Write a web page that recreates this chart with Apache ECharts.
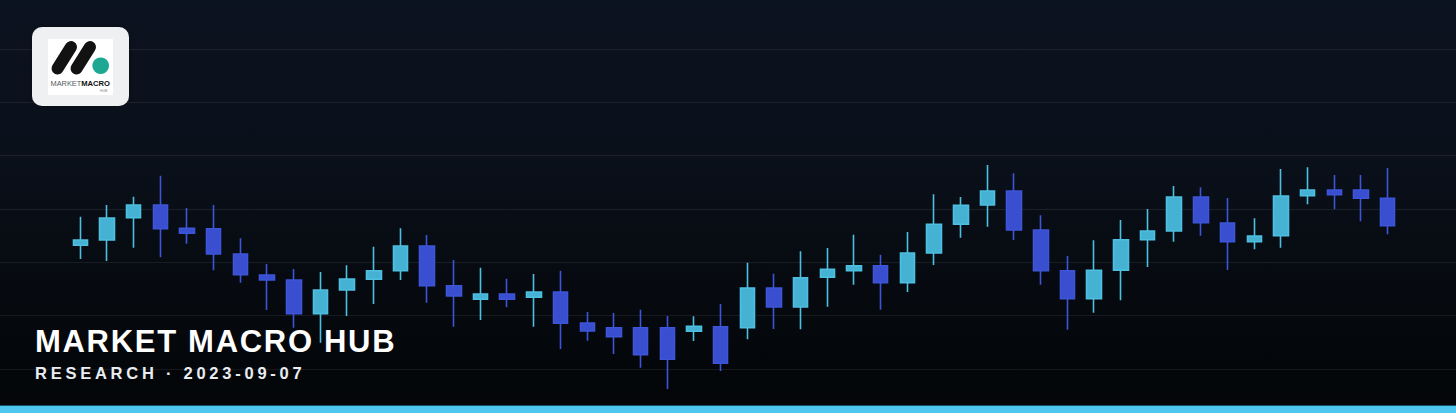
<!DOCTYPE html>
<html>
<head>
<meta charset="utf-8">
<script src="https://cdn.jsdelivr.net/npm/echarts@6/dist/echarts.min.js"></script>
<style>
  html, body { margin: 0; padding: 0; background: #070b12; }
  #chart { width: 1456px; height: 413px; background: linear-gradient(180deg, #0c1320 0%, #0a101a 40%, #05080c 80%, #030508 100%); }
</style>
</head>
<body>
<div id="chart"></div>
<script>
// ---- data ----
const categories = ['1','2','3','4','5','6','7','8','9','10','11','12','13','14','15','16','17','18','19','20','21','22','23','24','25','26','27','28','29','30','31','32','33','34','35','36','37','38','39','40','41','42','43','44','45','46','47','48','49','50'];
const openVals  = [123.19,124.19,128.37,130.75,126.38,126.31,121.56,117.63,116.69,110.37,114.81,116.82,118.43,123.06,115.62,113.07,114.06,113.44,114.44,108.63,107.74,107.74,107.74,107.07,107.93,107.74,115.19,111.63,117.19,118.43,119.37,116.18,121.75,127.13,130.75,133.38,126.06,118.43,113.18,118.51,124.24,125.88,132.25,127.38,123.87,124.99,132.49,133.56,133.56,132.01];
const closeVals = [124.19,128.31,130.75,126.31,125.44,121.56,117.68,116.69,110.37,114.81,116.88,118.43,123.06,115.62,113.69,114.06,113.07,114.44,108.57,107.13,106.06,102.68,101.82,108.01,101.07,115.19,111.63,117.12,118.69,119.37,116.18,121.75,127.13,130.69,133.38,126.06,118.43,113.18,118.51,124.24,125.88,132.25,127.43,123.87,124.94,132.44,133.56,132.68,132.01,126.87];
const lowVals   = [120.63,120.25,122.74,120.94,123.49,118.51,116.18,111.06,107.74,104.93,109.94,112.19,116.69,112.43,107.93,109.19,111.57,107.93,103.75,105.31,102.81,100.24,96.25,105.25,99.63,105.57,107.5,107.44,111.68,115.81,111.12,114.44,119.5,124.62,126.68,124.19,115.81,107.37,110.56,112.88,119.13,123.87,124.99,118.56,122.44,122.74,130.88,129.94,127.69,125.26];
const highVals  = [128.56,130.75,132.31,136.24,130.19,130.75,124.51,119.69,118.75,118.19,119.44,122.93,126.38,125.13,120.44,118.99,116.93,117.81,118.43,110.69,110.5,111.12,109.94,109.88,112.19,119.93,117.87,122.07,122.69,125.18,121.43,125.69,132.76,132.25,138.25,136.69,128.82,121.19,124.13,127.94,130,134.31,134.07,132.06,128.26,137.5,137.82,136.38,136.38,137.69];
const yTicks = { min: 100, max: 160, interval: 10 };
const titleText = 'MARKET MACRO HUB';
const subtitleText = 'RESEARCH · 2023-09-07';

const candleData = categories.map((c, i) => [openVals[i], closeVals[i], lowVals[i], highVals[i]]);

const chart = echarts.init(document.getElementById('chart'), null, { renderer: 'svg', width: 1456, height: 413 });

const option = {
  animation: false,
  backgroundColor: 'transparent',
  grid: [
    { left: 0, right: 0, top: 49, bottom: 44 },
    { left: 67, right: 55, top: 49, bottom: 44 }
  ],
  xAxis: [
    { gridIndex: 0, type: 'value', show: false, min: 0, max: 1 },
    { gridIndex: 1, type: 'category', data: categories, show: false, boundaryGap: true }
  ],
  yAxis: [
    { gridIndex: 0, type: 'value', min: yTicks.min, max: yTicks.max, interval: yTicks.interval,
      axisLine: { show: false }, axisTick: { show: false }, axisLabel: { show: false },
      splitLine: { show: true, lineStyle: { color: 'rgba(255,255,255,0.075)', width: 1 } } },
    { gridIndex: 1, type: 'value', min: yTicks.min, max: yTicks.max, interval: yTicks.interval, show: false,
      splitLine: { show: false } }
  ],
  series: [{
    type: 'candlestick',
    xAxisIndex: 1,
    yAxisIndex: 1,
    data: candleData,
    barWidth: 15,
    clip: false,
    z: 5,
    itemStyle: {
      color: '#45b2d4',
      color0: '#3a4fd0',
      borderColor: '#4dbfe0',
      borderColor0: '#3d55d8',
      borderWidth: 1.6
    }
  }],
  graphic: { elements: [
    // bottom accent bar
    { type: 'rect', z: 100, shape: { x: 0, y: 405, width: 1456, height: 1 }, style: { fill: '#174f66' } },
    { type: 'rect', z: 100, shape: { x: 0, y: 406, width: 1456, height: 7 }, style: { fill: '#4fc6ee' } },
    // logo
    { type: 'rect', z: 100, shape: { x: 32, y: 27, width: 97, height: 79, r: 10 }, style: { fill: '#eff0f2', shadowBlur: 6, shadowColor: 'rgba(0,0,0,0.35)' } },
    { type: 'rect', z: 101, shape: { x: 48, y: 39, width: 65, height: 56 }, style: { fill: '#ffffff' } },
    { type: 'line', z: 102, shape: { x1: 57.5, y1: 68.5, x2: 71, y2: 47 }, style: { stroke: '#121212', lineWidth: 12, lineCap: 'round' } },
    { type: 'line', z: 102, shape: { x1: 76.5, y1: 68.5, x2: 90, y2: 47 }, style: { stroke: '#121212', lineWidth: 12, lineCap: 'round' } },
    { type: 'circle', z: 102, shape: { cx: 100.7, cy: 65.7, r: 8.3 }, style: { fill: '#1ea894' } },
    { type: 'text', z: 102, style: {
        x: 50.5, y: 83.3, text: '{a|MARKET}{b|MACRO}', textVerticalAlign: 'middle',
        rich: {
          a: { fontFamily: 'Liberation Sans', fontSize: 7.4, fill: '#555a60', fontWeight: 'normal' },
          b: { fontFamily: 'Liberation Sans', fontSize: 7.6, fill: '#111111', fontWeight: 'bold' }
        } } },
    { type: 'text', z: 102, style: { x: 100, y: 91, text: 'HUB', fill: '#888', font: '3.5px "Liberation Sans"', textVerticalAlign: 'middle' } },
    // title texts
    { type: 'text', z: 110, style: { x: 35, y: 341.7, text: titleText, fill: '#ffffff', font: 'bold 31px "Liberation Sans", Arial, sans-serif', textVerticalAlign: 'middle' } },
    { type: 'text', z: 110, style: { x: 35, y: 373.3, text: subtitleText, fill: '#e9edf2', font: 'bold 16.5px "Liberation Sans", Arial, sans-serif', textVerticalAlign: 'middle' } }
  ] }
};

chart.setOption(option);

function applySpacing() {
  const texts = document.querySelectorAll('#chart text');
  texts.forEach(t => {
    const s = t.textContent;
    if (s === titleText) t.style.letterSpacing = '1.7px';
    else if (s === subtitleText) t.style.letterSpacing = '3.75px';
  });
}
chart.on('finished', applySpacing);
try { chart.getZr().flush(); } catch (e) {}
applySpacing();
setTimeout(applySpacing, 50);
</script>
</body>
</html>
